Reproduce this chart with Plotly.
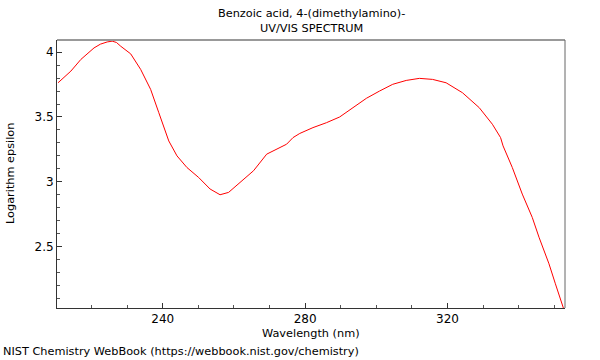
import plotly.graph_objects as go

wavelength_nm = [210.6, 212.5, 214.2, 217.0, 220.7, 222.5, 224.4, 225.8, 227.0, 228.2,
                 231.0, 233.8, 236.6, 238.9, 239.4, 241.7, 243.1, 244.0, 246.8, 250.1,
                 253.3, 256.1, 258.5, 261.7, 265.5, 269.2, 272.0, 274.8, 276.6, 278.5,
                 282.2, 286.0, 289.7, 293.4, 297.2, 300.9, 304.6, 308.4, 312.1, 315.8,
                 319.6, 324.2, 328.9, 332.6, 334.9, 335.6, 338.2, 341.0, 343.8, 345.7,
                 348.5, 350.3, 352.6]
log_epsilon = [3.764, 3.810, 3.854, 3.944, 4.033, 4.062, 4.079, 4.085, 4.075, 4.046,
               3.987, 3.867, 3.713, 3.533, 3.495, 3.315, 3.245, 3.200, 3.110, 3.033,
               2.944, 2.900, 2.918, 2.995, 3.085, 3.213, 3.252, 3.290, 3.341, 3.373,
               3.418, 3.456, 3.500, 3.572, 3.644, 3.700, 3.752, 3.782, 3.798, 3.790,
               3.764, 3.687, 3.572, 3.444, 3.341, 3.277, 3.110, 2.905, 2.725, 2.572,
               2.367, 2.213, 2.021]

x_ticks = [240, 280, 320]
y_ticks = [2.5, 3, 3.5, 4]
y_tick_labels = ["2.5", "3", "3.5", "4"]

title_text = "Benzoic acid, 4-(dimethylamino)-<br>UV/VIS SPECTRUM"
x_title = "Wavelength (nm)"
y_title = "Logarithm epsilon"
credit = "NIST Chemistry WebBook (https://webbook.nist.gov/chemistry)"

font = "DejaVu Sans, Liberation Sans, sans-serif"
TS = 11.3  # text size for titles / credit
PW = 508  # plot width in px
PH = 268  # plot height in px

fig = go.Figure(go.Scatter(x=wavelength_nm, y=log_epsilon, mode="lines",
                           line=dict(color="#ff0000", width=1), hoverinfo="skip"))

fig.update_layout(
    width=600, height=360,
    margin=dict(l=57, r=35, t=40, b=52, autoexpand=False),
    paper_bgcolor="white", plot_bgcolor="white",
    showlegend=False,
    font=dict(family=font, size=12, color="black"),
    xaxis=dict(range=[210.3, 353.0], tickvals=x_ticks, ticks="inside", ticklen=5,
               tickcolor="#333", showline=True, linecolor="#333", linewidth=1,
               showgrid=False, zeroline=False, automargin=False, fixedrange=True,
               minor=dict(dtick=10, tick0=200, ticks="inside", ticklen=3, tickcolor="#555"),
               tickfont=dict(size=12)),
    yaxis=dict(range=[2.026, 4.094], tickvals=y_ticks, ticktext=y_tick_labels,
               ticks="inside", ticklen=5, tickcolor="#333",
               showline=True, linecolor="#333", linewidth=1,
               showgrid=False, zeroline=False, automargin=False, fixedrange=True,
               minor=dict(dtick=0.1, tick0=2.0, ticks="inside", ticklen=3, tickcolor="#555"),
               tickfont=dict(size=12)),
    shapes=[
        dict(type="line", xref="paper", yref="paper", x0=0, x1=1, y0=1, y1=1,
             line=dict(color="#999999", width=2)),
        dict(type="line", xref="paper", yref="paper", x0=1, x1=1, y0=0, y1=1,
             line=dict(color="#666666", width=1)),
    ],
    annotations=[
        dict(text=title_text, xref="paper", yref="paper", x=0.5, y=1, yshift=3,
             xanchor="center", yanchor="bottom", showarrow=False,
             font=dict(family=font, size=TS, color="black")),
        dict(text=x_title, xref="paper", yref="paper", x=0.5, y=0, yshift=-17,
             xanchor="center", yanchor="top", showarrow=False,
             font=dict(family=font, size=TS, color="black")),
        dict(text=y_title, xref="paper", yref="paper", x=-47/PW, y=0.5,
             xanchor="center", yanchor="middle", textangle=-90, showarrow=False,
             font=dict(family=font, size=TS, color="black")),
        dict(text=credit, xref="paper", yref="paper", x=-56/PW, y=0, yshift=-52,
             xanchor="left", yanchor="bottom", showarrow=False,
             font=dict(family=font, size=TS, color="black")),
    ],
)

fig.write_html("out.html", config={"displayModeBar": False, "staticPlot": True},
               post_script="document.body.style.margin='0';")
